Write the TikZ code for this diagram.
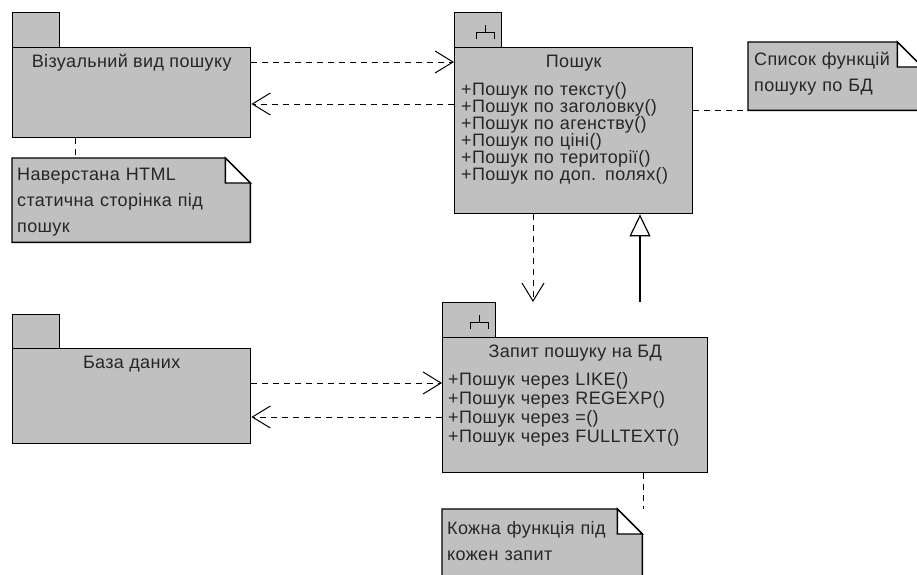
\documentclass[tikz,border=0pt]{standalone}
\usepackage{fontspec}
\setmainfont{Liberation Sans}[LetterSpace=2]
\usetikzlibrary{arrows.meta}
\definecolor{pkgfill}{HTML}{C0C0C0}
\tikzset{
  box/.style={draw=black, fill=pkgfill, line width=1.4pt, inner sep=0pt, anchor=north west},
  txt/.style={inner sep=0pt, text=black!85, font=\fontsize{18}{17}\selectfont},
  link/.style={line width=1pt, dash pattern=on 6pt off 5pt},
  dep/.style={link, -{Straight Barb[length=18pt, width=22pt]}},
  gen/.style={line width=1.2pt, -{Triangle[open, length=22pt, width=21pt]}}
}
\begin{document}
\begin{tikzpicture}[x=1pt, y=-1pt]
\useasboundingbox (0,0) rectangle (917,574);
\clip (0,0) rectangle (917,574);
\node[box, minimum width=47pt, minimum height=35pt] (vistab) at (12,12) {};
\node[box, minimum width=238pt, minimum height=90pt] (vis) at (12,47) {};
\node[box, minimum width=47pt, minimum height=35pt] (poshtab) at (454,12) {};
\node[box, minimum width=238pt, minimum height=166pt] (posh) at (454,47) {};
\node[box, minimum width=47pt, minimum height=34pt] (bazatab) at (12,314) {};
\node[box, minimum width=238pt, minimum height=95pt] (baza) at (12,348) {};
\node[box, minimum width=53pt, minimum height=35pt] (zaptab) at (442,302) {};
\node[box, minimum width=265pt, minimum height=135pt] (zap) at (442,337) {};
\foreach \t in {poshtab,zaptab}
  \draw[line width=1pt] ([xshift=-26pt,yshift=9pt]\t.south east) |- ([xshift=-8pt,yshift=16pt]\t.south east) -- ([xshift=-8pt,yshift=9pt]\t.south east)
    ([xshift=-17pt,yshift=16pt]\t.south east) -- ([xshift=-17pt,yshift=23pt]\t.south east);
\node[txt, anchor=base] (vistitle) at ([yshift=-20pt]vis.north) {Візуальний вид пошуку};
\node[txt, anchor=base] (poshtitle) at ([yshift=-20pt]posh.north) {Пошук};
\node[txt, anchor=base] (bazatitle) at ([yshift=-20pt]baza.north) {База даних};
\node[txt, anchor=base] (zaptitle) at ([yshift=-20pt]zap.north) {Запит пошуку на БД};
\node[txt, anchor=base west, text width=225pt, align=left] (poshops) at (461,95)
  {+Пошук по тексту()\\+Пошук по заголовку()\\+Пошук по агенству()\\+Пошук по ціні()\\+Пошук по території()\\+Пошук по доп. полях()};
\node[txt, anchor=base west, text width=255pt, align=left, font=\fontsize{18}{19}\selectfont] (zapops) at (448,385)
  {+Пошук через LIKE()\\+Пошук через REGEXP()\\+Пошук через =()\\+Пошук через FULLTEXT()};
\node[inner sep=0pt, minimum width=238pt, minimum height=84pt, anchor=north west] (note1) at (12,158) {};
\node[inner sep=0pt, minimum width=174pt, minimum height=68pt, anchor=north west] (note2) at (748,42) {};
\node[inner sep=0pt, minimum width=200pt, minimum height=90pt, anchor=north west] (note3) at (442,509) {};
\foreach \n in {note1,note2,note3} {
  \draw[box] (\n.north west) -- ([xshift=-25pt]\n.north east) -- ([yshift=-25pt]\n.north east) -- (\n.south east) -- (\n.south west) -- cycle;
  \draw[line width=1.4pt, fill=white] ([xshift=-25pt]\n.north east) |- ([yshift=-25pt]\n.north east) -- cycle;
}
\node[txt, anchor=base west, text width=220pt, align=left, font=\fontsize{18}{26}\selectfont] (note1text) at ([xshift=5pt,yshift=-22pt]note1.north west)
  {Наверстана HTML\\статична сторінка під\\пошук};
\node[txt, anchor=base west, text width=160pt, align=left, font=\fontsize{18}{26}\selectfont] (note2text) at ([xshift=6pt,yshift=-23pt]note2.north west)
  {Список функцій\\пошуку по БД};
\node[txt, anchor=base west, text width=190pt, align=left, font=\fontsize{18}{26}\selectfont] (note3text) at ([xshift=5pt,yshift=-25pt]note3.north west)
  {Кожна функція під\\кожен запит};
\draw[dep] (vis.east |- 0,62) -- (posh.west |- 0,62);
\draw[dep] (posh.west |- 0,104) -- (vis.east |- 0,104);
\draw[dep] (baza.east |- 0,383) -- (zap.west |- 0,383);
\draw[dep] (zap.west |- 0,417) -- (baza.east |- 0,417);
\draw[dep] (posh.south -| 533,0) -- (zaptab.north -| 533,0);
\draw[gen] (zaptab.north -| 640,0) -- (posh.south -| 640,0);
\draw[link] (vis.south -| 75,0) -- (note1.north -| 75,0);
\draw[link] (posh.east |- note2.south west) -- (note2.south west);
\draw[link] (zap.south -| 643,0) -- (note3.north -| 643,0);
\end{tikzpicture}
\end{document}
